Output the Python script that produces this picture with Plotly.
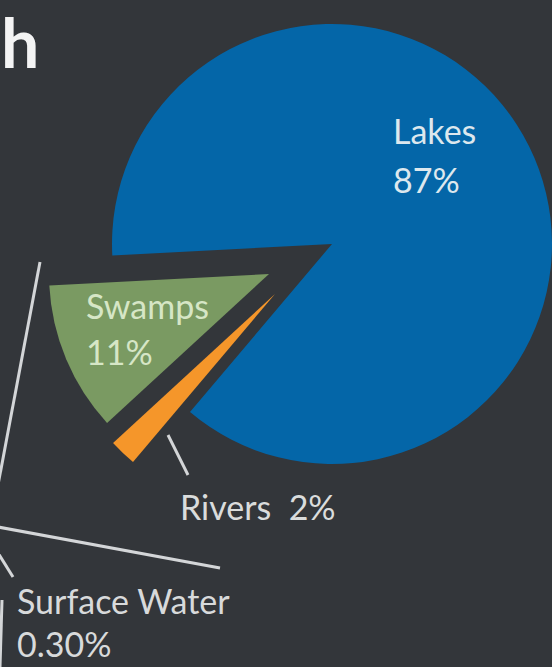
import plotly.graph_objects as go

# Surface water breakdown (share of fresh surface water)
labels = ["Lakes", "Rivers", "Swamps"]
values = [87, 2, 11]
colors = ["#0466a8", "#f5962a", "#7a9a62"]
label_colors = ["#dde8ee", "#dadcdc", "#d6e6c6"]
surface_label = "Surface Water"
surface_value = 0.30
title_text = "h"

W, H = 552, 667
BG = "#33363a"
R = 220
ROT = 267

# slice centre (px) for each wedge: Lakes in place, the other two pulled out
centers = {"Lakes": (332, 244), "Rivers": (275, 294), "Swamps": (269, 274)}


def px_x(x):
    return x / W


def px_y(y):
    return 1 - y / H


fig = go.Figure()
for name in labels:
    cx, cy = centers[name]
    cols = [c if lab == name else "rgba(0,0,0,0)" for lab, c in zip(labels, colors)]
    fig.add_trace(go.Pie(
        labels=labels,
        values=values,
        sort=False,
        direction="clockwise",
        rotation=ROT,
        marker=dict(colors=cols, line=dict(width=0)),
        textinfo="none",
        hoverinfo="skip",
        showlegend=False,
        domain=dict(x=[px_x(cx - R), px_x(cx + R)], y=[px_y(cy + R), px_y(cy - R)]),
    ))

FONT = "Lato, 'Noto Sans', sans-serif"
FS = 34
label_pos = {"Lakes": (391, 130, 180), "Swamps": (84, 305, 351)}
anns = []
for name, val, tc in zip(labels, values, label_colors):
    if name in label_pos:
        x, y1, y2 = label_pos[name]
        for txt, yy in ((name, y1), (f"{val}%", y2)):
            anns.append(dict(x=px_x(x), y=px_y(yy), xref="paper", yref="paper",
                             text=txt, showarrow=False, xanchor="left", yanchor="middle",
                             font=dict(family=FONT, size=FS, color=tc)))
    else:
        anns.append(dict(x=px_x(178), y=px_y(507), xref="paper", yref="paper",
                         text=f"{name}  {val}%", showarrow=False, xanchor="left",
                         yanchor="middle", font=dict(family=FONT, size=FS, color=tc)))

anns.append(dict(x=px_x(15), y=px_y(600), xref="paper", yref="paper", text=surface_label,
                 showarrow=False, xanchor="left", yanchor="middle",
                 font=dict(family=FONT, size=FS, color="#d8dadb")))
anns.append(dict(x=px_x(15), y=px_y(643), xref="paper", yref="paper",
                 text=f"{surface_value:.2f}%", showarrow=False, xanchor="left", yanchor="middle",
                 font=dict(family=FONT, size=FS, color="#d8dadb")))
anns.append(dict(x=0, y=1, xref="paper", yref="paper", text=title_text,
                 showarrow=False, xanchor="left", yanchor="top", borderpad=0,
                 font=dict(family=FONT, size=68, color="#f4f4f4", weight="bold")))

# leader / callout lines
segments = [
    ((40, 262), (-2, 485)),
    ((-2, 527), (220, 568)),
    ((-2, 553), (13, 577)),
    ((2, 600), (0, 667)),
    ((168, 435), (188, 475)),
]
shapes = [dict(type="line", xref="paper", yref="paper",
               x0=px_x(a[0]), y0=px_y(a[1]), x1=px_x(b[0]), y1=px_y(b[1]),
               line=dict(color="#d4d6d8", width=3))
          for a, b in segments]

fig.update_layout(
    width=W, height=H,
    margin=dict(l=0, r=0, t=0, b=0),
    paper_bgcolor=BG, plot_bgcolor=BG,
    annotations=anns, shapes=shapes,
)

fig.write_html("out.html")
